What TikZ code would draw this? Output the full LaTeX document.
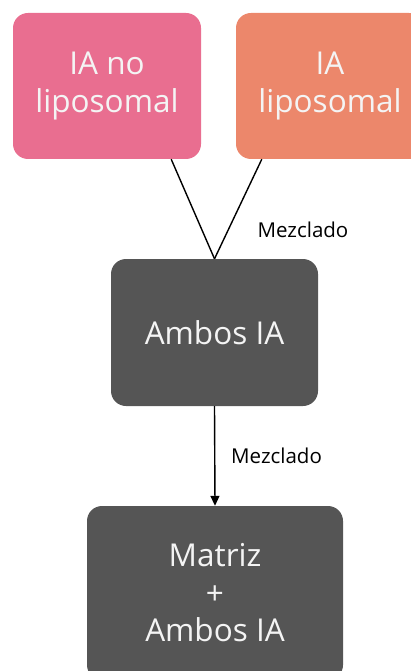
\documentclass[tikz,border=0pt]{standalone}
\usepackage{fontspec}
\setmainfont{Open Sans}
\usetikzlibrary{arrows.meta}
\definecolor{pinkbox}{HTML}{E96E90}
\definecolor{orangebox}{HTML}{EC876B}
\definecolor{darkbox}{HTML}{555555}
\definecolor{boxtext}{HTML}{F4F4F4}
\tikzset{
  box/.style={rectangle, rounded corners=15pt, draw=none, text=boxtext, align=center,
    font=\fontsize{31.5}{37.5}\selectfont, inner sep=0pt},
  conn/.style={line width=1.4pt, black},
  lbl/.style={font=\fontsize{20.5}{24}\selectfont, text=black, inner sep=0pt}
}
\begin{document}
\begin{tikzpicture}[x=1pt,y=1pt]
\useasboundingbox (0,0) rectangle (411,-671);
\node[box, fill=pinkbox, minimum width=188pt, minimum height=146pt] (n1) at (107,-86) {IA no\\liposomal};
\node[box, fill=orangebox, minimum width=188pt, minimum height=146pt] (n2) at (330,-86) {IA\\liposomal};
\node[box, fill=darkbox, minimum width=207pt, minimum height=147pt] (n3) at (214.5,-332.5) {Ambos IA};
\node[box, fill=darkbox, minimum width=256pt, minimum height=174pt] (n4) at (215,-593) {Matriz\\+\\Ambos IA};
\draw[conn] ([xshift=-30pt]n1.south east) -- (n3.north);
\draw[conn] ([xshift=26pt]n2.south west) -- (n3.north);
\draw[conn, -{Triangle[length=10pt,width=9pt]}] (n3.south) -- (n4.north);
\node[lbl] (m1) at (303,-230) {Mezclado};
\node[lbl, anchor=west] (m2) at (231,-456) {Mezclado};
\end{tikzpicture}
\end{document}
